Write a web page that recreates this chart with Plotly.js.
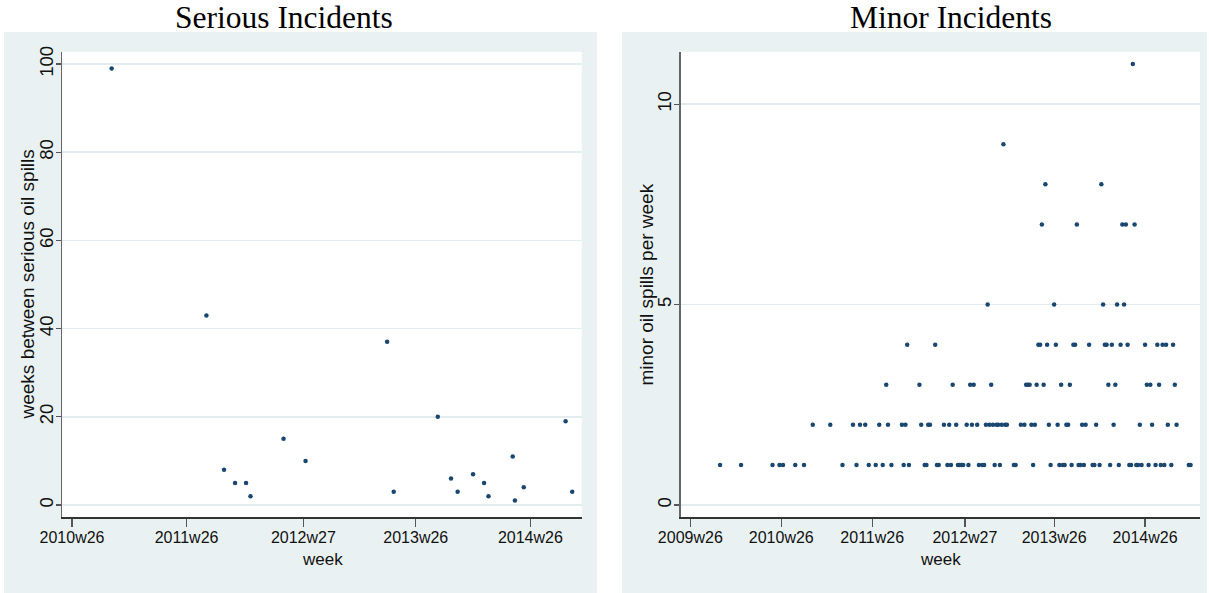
<!DOCTYPE html>
<html>
<head>
<meta charset="utf-8">
<script src="https://cdn.plot.ly/plotly-3.0.1.min.js"></script>
<style>html,body{margin:0;padding:0;background:#fff;}#chart{width:1209px;height:593px;}</style>
</head>
<body>
<div id="chart"></div>
<script>
// ---------- DATA (Stata weekly date numbers, %tw: (year-1960)*52 + week-1) ----------
// Serious incidents: week of spill and weeks since the previous serious spill
var seriousWeek = [2643,2686,2694,2699,2704,2706,2721,2731,2768,2771,2791,2797,2800,2807,2812,2814,2825,2826,2830,2849,2852];
var seriousGap  = [99,43,8,5,5,2,15,10,37,3,20,6,3,7,5,2,11,1,4,19,3];

// Minor incidents: weeks grouped by the number of minor spills recorded that week
var minorWeeks1 = [2590,2602,2620,2624,2626,2633,2638,2660,2668,2675,2679,2683,2688,2695,2698,2707,2708,2714,2715,
                   2720,2722,2726,2727,2728,2729,2732,2738,2740,2741,2747,2750,2758,2759,2769,2779,2784,2786,2787,
                   2791,2795,2796,2798,2803,2804,2807,2813,2818,2824,2825,2828,2829,2831,2835,2839,2842,2844,2848,2858,2859];
var minorWeeks2 = [2643,2653,2666,2670,2673,2681,2686,2694,2696,2705,2709,2710,
                   2718,2721,2725,2731,2734,2737,2742,2744,2746,2748,2749,2751,2753,2754,2762,2764,2768,2770,
                   2778,2783,2788,2789,2797,2799,2805,2815,2830,2837,2846,2851];
var minorWeeks3 = [2685,2704,2723,2733,2735,2745,2765,2766,2767,2771,2775,2785,2790,2812,2816,2834,2836,2841,2850];
var minorWeeks4 = [2697,2713,2772,2773,2777,2782,2792,2793,2801,2810,2811,2814,2819,2823,2833,2840,2843,2845,2849];
var minorWeeks5 = [2743,2781,2809,2817,2821];
var minorWeeks7 = [2774,2794,2820,2822,2827];
var minorWeeks8 = [2776,2808];
var minorWeeks9 = [2752];
var minorWeeks11 = [2826];

// Tick values and labels
var seriousTickVals = [2625,2677,2730,2781,2833];
var seriousTickText = ['2010w26','2011w26','2012w27','2013w26','2014w26'];
var minorTickVals = [2573,2625,2677,2730,2781,2833];
var minorTickText = ['2009w26','2010w26','2011w26','2012w27','2013w26','2014w26'];
var seriousYTicks = [0,20,40,60,80,100];
var minorYTicks = [0,5,10];

// ---------- build minor series ----------
var minorGroups = [[1,minorWeeks1],[2,minorWeeks2],[3,minorWeeks3],[4,minorWeeks4],[5,minorWeeks5],
                   [7,minorWeeks7],[8,minorWeeks8],[9,minorWeeks9],[11,minorWeeks11]];
var minorX = [], minorY = [];
minorGroups.forEach(function(g){ g[1].forEach(function(w){ minorX.push(w); minorY.push(g[0]); }); });

// ---------- layout geometry (pixels) ----------
var W = 1209, H = 593;
function px(x){ return x / W; }
function py(y){ return 1 - y / H; }
var plotTop = 51.7, plotBottom = 517.3;
var L = {x0: 62.3, x1: 581.7}, R = {x0: 680.7, x1: 1200};

var navy = '#1A476F';
var panelBg = '#E9F1F3';
var grid = '#E2EBED';
var sans = 'Liberation Sans, Arial, Helvetica, sans-serif';
var serif = 'Liberation Serif, Times New Roman, serif';

var traces = [
  {type:'scatter', mode:'markers', x: seriousWeek, y: seriousGap, xaxis:'x', yaxis:'y',
   marker:{color: navy, size: 4.5}, hoverinfo:'x+y'},
  {type:'scatter', mode:'markers', x: minorX, y: minorY, xaxis:'x2', yaxis:'y2',
   marker:{color: navy, size: 4.5}, hoverinfo:'x+y'}
];

function xAxis(dom, range, vals, text, anchor){
  return {domain: dom, range: range, anchor: anchor, tickmode:'array', tickvals: vals, ticktext: text,
    ticks:'outside', ticklen: 8, tickwidth: 1.2, tickcolor:'#555', ticklabelstandoff: -3,
    showline: true, linecolor:'#333', linewidth: 1.3, showgrid: false, zeroline: false,
    tickfont:{family: sans, size: 16, color:'#111'}, fixedrange: true};
}
function yAxis(range, vals, anchor){
  return {domain:[py(plotBottom), py(plotTop)], range: range, anchor: anchor, tickmode:'array', tickvals: vals,
    tickangle: -90, ticks:'outside', ticklen: 5, tickwidth: 1.2, tickcolor:'#555', ticklabelstandoff: -4,
    showline: true, linecolor:'#666', linewidth: 1.3, showgrid: true, gridcolor: grid, gridwidth: 1.5,
    zeroline: false, tickfont:{family: sans, size: 18.5, color:'#111'}, fixedrange: true};
}

var layout = {
  width: W, height: H, margin:{l:0, r:0, t:0, b:0},
  paper_bgcolor:'#ffffff', plot_bgcolor:'#ffffff', showlegend: false,
  xaxis: xAxis([px(L.x0), px(L.x1)], [2620.6, 2856.3], seriousTickVals, seriousTickText, 'y'),
  yaxis: yAxis([-2.79, 102.8], seriousYTicks, 'x'),
  xaxis2: xAxis([px(R.x0), px(R.x1)], [2567.5, 2864.4], minorTickVals, minorTickText, 'y2'),
  yaxis2: yAxis([-0.307, 11.31], minorYTicks, 'x2'),
  shapes: [
    {type:'rect', xref:'paper', yref:'paper', x0: px(4), x1: px(597), y0: 0, y1: py(32), fillcolor: panelBg, line:{width:0}, layer:'below'},
    {type:'rect', xref:'paper', yref:'paper', x0: px(622), x1: px(1207), y0: 0, y1: py(32), fillcolor: panelBg, line:{width:0}, layer:'below'},
    {type:'rect', xref:'paper', yref:'paper', x0: px(L.x0), x1: px(L.x1), y0: py(plotBottom), y1: py(plotTop), fillcolor:'#ffffff', line:{width:0}, layer:'below'},
    {type:'rect', xref:'paper', yref:'paper', x0: px(R.x0), x1: px(R.x1), y0: py(plotBottom), y1: py(plotTop), fillcolor:'#ffffff', line:{width:0}, layer:'below'}
  ],
  annotations: [
    {text:'Serious Incidents', xref:'paper', yref:'paper', x: px(283.6), y: py(17), xanchor:'center', yanchor:'middle', showarrow:false, font:{family: serif, size: 31.5, color:'#000'}},
    {text:'Minor Incidents', xref:'paper', yref:'paper', x: px(950.8), y: py(17), xanchor:'center', yanchor:'middle', showarrow:false, font:{family: serif, size: 31.5, color:'#000'}},
    {text:'week', xref:'paper', yref:'paper', x: px((L.x0+L.x1)/2), y: py(559), xanchor:'center', yanchor:'middle', showarrow:false, font:{family: sans, size: 17, color:'#111'}},
    {text:'week', xref:'paper', yref:'paper', x: px((R.x0+R.x1)/2), y: py(559), xanchor:'center', yanchor:'middle', showarrow:false, font:{family: sans, size: 17, color:'#111'}},
    {text:'weeks between serious oil spills', xref:'paper', yref:'paper', x: px(27), y: py((plotTop+plotBottom)/2), xanchor:'center', yanchor:'middle', textangle:-90, showarrow:false, font:{family: sans, size: 19, color:'#111'}},
    {text:'minor oil spills per week', xref:'paper', yref:'paper', x: px(646), y: py((plotTop+plotBottom)/2), xanchor:'center', yanchor:'middle', textangle:-90, showarrow:false, font:{family: sans, size: 19, color:'#111'}}
  ]
};

Plotly.newPlot('chart', traces, layout, {staticPlot: true, displayModeBar: false});
</script>
</body>
</html>
